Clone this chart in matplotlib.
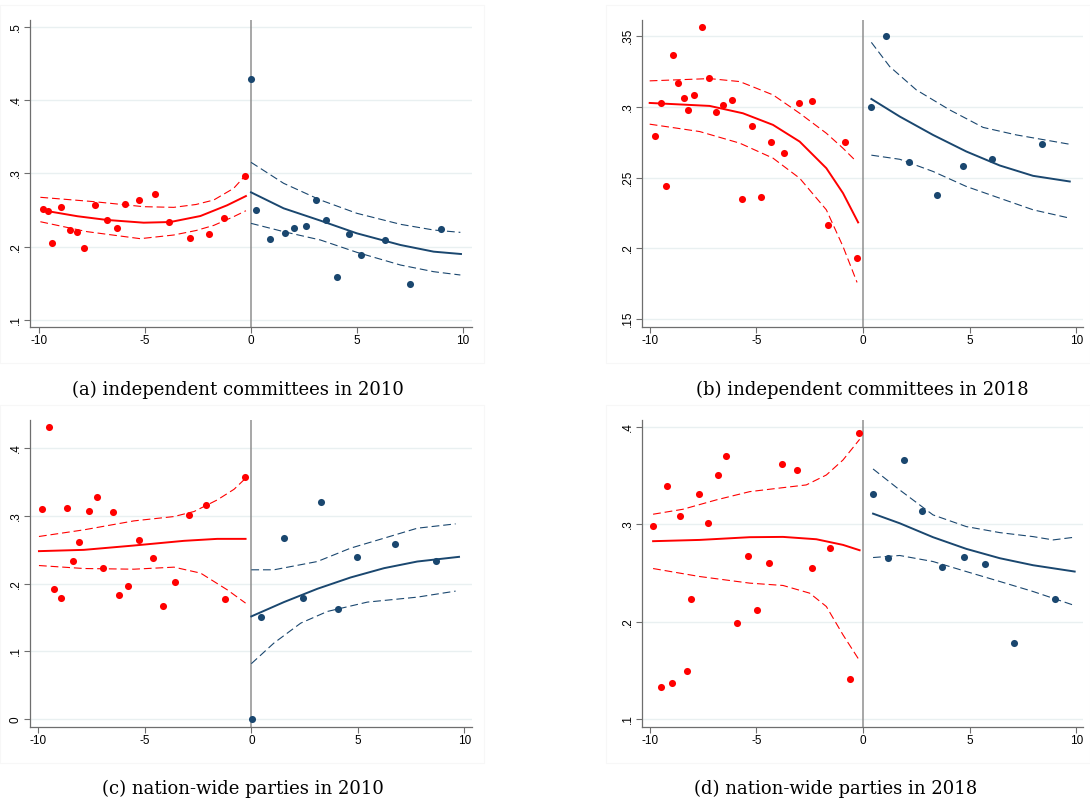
import matplotlib.pyplot as plt
from matplotlib.patches import Rectangle

RED = '#ff0000'
NAVY = '#1a476f'

# ---- (a) independent committees in 2010 ----
a_left_x = [-9.84, -9.59, -9.39, -8.96, -8.54, -8.22, -7.87, -7.37, -6.82, -6.33,
            -5.94, -5.29, -4.52, -3.86, -2.88, -1.98, -1.28, -0.27]
a_left_y = [0.251, 0.248, 0.2055, 0.2545, 0.2227, 0.2195, 0.198, 0.2568, 0.236, 0.226,
            0.2577, 0.264, 0.2718, 0.233, 0.2123, 0.2177, 0.2395, 0.2968]
a_right_x = [0.0, 0.25, 0.91, 1.61, 2.02, 2.58, 3.06, 3.53, 4.06, 4.65, 5.21, 6.35, 7.50, 8.96]
a_right_y = [0.4286, 0.2495, 0.2109, 0.2186, 0.225, 0.2277, 0.264, 0.236, 0.1582, 0.2177,
             0.1882, 0.2095, 0.149, 0.2236]
a_lfit_x = [-9.64, -8.2, -6.8, -5.07, -3.81, -2.39, -1.13, -0.24]
a_lfit_y = [0.2486, 0.2415, 0.2364, 0.2327, 0.2336, 0.2418, 0.2564, 0.269]
a_lhi_x = [-9.95, -7.43, -5.07, -3.65, -2.6, -1.76, -0.82, -0.27]
a_lhi_y = [0.2673, 0.2614, 0.2545, 0.2536, 0.2575, 0.2636, 0.2795, 0.297]
a_llo_x = [-9.95, -7.75, -5.23, -3.65, -2.6, -1.76, -0.82, -0.24]
a_llo_y = [0.234, 0.2205, 0.2109, 0.2159, 0.222, 0.229, 0.2409, 0.249]
a_rfit_x = [0.0, 1.54, 3.28, 5.0, 7.06, 8.63, 9.92]
a_rfit_y = [0.2741, 0.2523, 0.2355, 0.2182, 0.2023, 0.1932, 0.190]
a_rhi_x = [0.0, 1.54, 3.28, 5.0, 7.06, 8.63, 9.89]
a_rhi_y = [0.315, 0.2864, 0.2636, 0.2455, 0.2305, 0.2227, 0.2195]
a_rlo_x = [0.0, 1.54, 3.28, 5.0, 7.06, 8.63, 9.89]
a_rlo_y = [0.2318, 0.2205, 0.2091, 0.1923, 0.175, 0.1659, 0.1614]

# ---- (b) independent committees in 2018 ----
b_left_x = [-9.73, -9.45, -9.23, -8.92, -8.66, -8.38, -8.20, -7.92, -7.55, -7.22, -6.89,
            -6.56, -6.14, -5.67, -5.22, -4.80, -4.31, -3.70, -3.0, -2.38, -1.63, -0.84, -0.28]
b_left_y = [0.2793, 0.3026, 0.2442, 0.3365, 0.3169, 0.3061, 0.2979, 0.3085, 0.3567, 0.3202,
            0.2962, 0.3014, 0.3049, 0.2346, 0.2868, 0.2367, 0.2753, 0.2673, 0.3026, 0.3045,
            0.2165, 0.2753, 0.1932]
b_right_x = [0.39, 1.09, 2.16, 3.45, 4.70, 6.06, 8.38]
b_right_y = [0.3002, 0.3499, 0.2609, 0.2381, 0.2579, 0.2631, 0.2739]
b_lfit_x = [-10.0, -7.19, -5.63, -4.22, -2.97, -1.72, -0.94, -0.23]
b_lfit_y = [0.3028, 0.3007, 0.2955, 0.2873, 0.2755, 0.2567, 0.2391, 0.2184]
b_lhi_x = [-10.0, -7.19, -5.78, -4.22, -2.97, -1.72, -0.94, -0.31]
b_lhi_y = [0.3184, 0.320, 0.3179, 0.3085, 0.2955, 0.2814, 0.2708, 0.2614]
b_llo_x = [-10.0, -7.66, -5.78, -4.22, -2.97, -1.72, -0.94, -0.28]
b_llo_y = [0.2878, 0.2826, 0.2744, 0.2638, 0.2496, 0.2273, 0.2014, 0.176]
b_rfit_x = [0.39, 1.72, 3.28, 4.84, 6.41, 7.97, 9.69]
b_rfit_y = [0.3056, 0.2932, 0.2802, 0.2685, 0.2586, 0.2513, 0.2473]
b_rhi_x = [0.39, 1.25, 2.5, 4.06, 5.63, 7.19, 9.69]
b_rhi_y = [0.3456, 0.3285, 0.312, 0.2979, 0.2855, 0.2802, 0.2736]
b_rlo_x = [0.39, 1.72, 3.28, 4.84, 6.41, 7.97, 9.69]
b_rlo_y = [0.2659, 0.263, 0.2544, 0.2438, 0.2355, 0.2273, 0.2214]

# ---- (c) nation-wide parties in 2010 ----
c_left_x = [-9.81, -9.51, -9.28, -8.95, -8.67, -8.39, -8.08, -7.61, -7.25, -6.94, -6.48,
            -6.21, -5.79, -5.27, -4.62, -4.15, -3.58, -2.91, -2.13, -1.25, -0.31]
c_left_y = [0.3102, 0.4309, 0.1919, 0.1787, 0.3117, 0.2336, 0.2611, 0.3077, 0.3279, 0.2233,
            0.3063, 0.1836, 0.1958, 0.2641, 0.2375, 0.1674, 0.2017, 0.3009, 0.3166, 0.1767,
            0.3573]
c_right_x = [0.05, 0.47, 1.55, 2.44, 3.26, 4.07, 4.98, 6.74, 8.67]
c_right_y = [0.0, 0.1507, 0.2675, 0.1782, 0.321, 0.162, 0.2395, 0.2591, 0.2331]
c_lfit_x = [-9.97, -7.86, -5.51, -3.16, -1.6, -0.27]
c_lfit_y = [0.2479, 0.2498, 0.2562, 0.2631, 0.266, 0.266]
c_lhi_x = [-9.97, -7.86, -5.51, -3.63, -2.69, -1.6, -0.81, -0.27]
c_lhi_y = [0.2695, 0.2793, 0.2925, 0.2989, 0.3063, 0.3234, 0.3391, 0.3553]
c_llo_x = [-9.97, -7.86, -5.51, -3.63, -2.38, -1.13, -0.27]
c_llo_y = [0.2267, 0.2223, 0.2213, 0.2243, 0.2155, 0.1909, 0.1713]
c_rfit_x = [0.0, 1.53, 3.10, 4.66, 6.23, 7.79, 9.75]
c_rfit_y = [0.1517, 0.1728, 0.1924, 0.2091, 0.2228, 0.2326, 0.2395]
c_rhi_x = [0.0, 1.06, 3.10, 4.66, 6.23, 7.79, 9.59]
c_rhi_y = [0.2204, 0.2204, 0.2326, 0.2523, 0.267, 0.2817, 0.2881]
c_rlo_x = [0.0, 1.06, 2.32, 3.57, 5.45, 7.79, 9.59]
c_rlo_y = [0.082, 0.1124, 0.1418, 0.159, 0.1728, 0.1801, 0.189]

# ---- (d) nation-wide parties in 2018 ----
d_left_x = [-9.84, -9.48, -9.20, -8.94, -8.56, -8.25, -8.06, -7.67, -7.25, -6.81, -6.44,
            -5.91, -5.38, -4.98, -4.42, -3.80, -3.09, -2.39, -1.55, -0.61, -0.17]
d_left_y = [0.298, 0.1331, 0.3391, 0.1369, 0.3087, 0.1492, 0.2238, 0.3316, 0.3011, 0.3511,
            0.3706, 0.1985, 0.2676, 0.2122, 0.2604, 0.3624, 0.3555, 0.2549, 0.2758, 0.1407,
            0.3938]
d_right_x = [0.47, 1.16, 1.94, 2.78, 3.69, 4.75, 5.73, 7.09, 9.02]
d_right_y = [0.3316, 0.2659, 0.3661, 0.3134, 0.2563, 0.2669, 0.2590, 0.178, 0.2238]
d_lfit_x = [-9.84, -7.66, -5.31, -3.75, -2.19, -0.94, -0.16]
d_lfit_y = [0.2827, 0.284, 0.2868, 0.2871, 0.2847, 0.2789, 0.2734]
d_lhi_x = [-9.84, -8.44, -6.88, -5.31, -3.75, -2.66, -1.72, -0.94, -0.16]
d_lhi_y = [0.3104, 0.3155, 0.3251, 0.3336, 0.3377, 0.3405, 0.3507, 0.3661, 0.3873]
d_llo_x = [-9.84, -7.66, -5.31, -3.75, -2.5, -1.72, -0.94, -0.19]
d_llo_y = [0.2546, 0.2464, 0.2396, 0.2372, 0.2293, 0.2156, 0.1865, 0.1609]
d_rfit_x = [0.47, 1.72, 3.28, 4.84, 6.41, 7.97, 9.92]
d_rfit_y = [0.311, 0.3011, 0.2868, 0.2748, 0.2652, 0.258, 0.2515]
d_rhi_x = [0.47, 1.72, 3.28, 4.84, 6.41, 7.97, 8.91, 9.92]
d_rhi_y = [0.3569, 0.3353, 0.3097, 0.2977, 0.2915, 0.2874, 0.284, 0.2868]
d_rlo_x = [0.47, 1.72, 3.28, 4.84, 6.41, 7.97, 9.92]
d_rlo_y = [0.2659, 0.268, 0.2618, 0.2515, 0.2413, 0.231, 0.2166]

xticks = [-10, -5, 0, 5, 10]
xticklabels = ['-10', '-5', '0', '5', '10']


def panel(ax, left, right, lfit, lhi, llo, rfit, rhi, rlo, xlim, ylim, yticks, ylabels):
    ax.set_xlim(*xlim)
    ax.set_ylim(*ylim)
    for t in yticks:
        ax.axhline(t, color='#e9f0f1', lw=1.0, zorder=0)
    ax.axvline(0, color='#8f8f8f', lw=1.1, zorder=1)

    ax.scatter(*left, s=26, color=RED, linewidths=0, zorder=3)
    ax.scatter(*right, s=26, color=NAVY, linewidths=0, zorder=3)

    ax.plot(*lfit, color=RED, lw=1.4, zorder=2)
    ax.plot(*rfit, color=NAVY, lw=1.4, zorder=2)
    for cx, cy in (lhi, llo):
        ax.plot(cx, cy, color=RED, lw=0.8, dashes=(7, 3.5), zorder=2)
    for cx, cy in (rhi, rlo):
        ax.plot(cx, cy, color=NAVY, lw=0.8, dashes=(7, 3.5), zorder=2)

    ax.set_xticks(xticks)
    ax.set_xticklabels(xticklabels)
    ax.set_yticks(yticks)
    ax.set_yticklabels(ylabels, rotation=90, va='center')
    for s in ('top', 'right'):
        ax.spines[s].set_visible(False)
    for s in ('left', 'bottom'):
        ax.spines[s].set_color('#6e6e6e')
        ax.spines[s].set_linewidth(0.9)
    ax.tick_params(direction='out', length=4, width=0.8, color='#6e6e6e',
                   labelsize=8.5, pad=2)
    for lab in ax.get_xticklabels() + ax.get_yticklabels():
        lab.set_fontfamily('Liberation Sans')


fig = plt.figure(figsize=(10.9, 8.0), dpi=100)
W, H = 1090, 800


def box(l, t, r, b):
    return [l / W, 1 - b / H, (r - l) / W, (b - t) / H]


# faint outlines of the embedded graphics
for l, t, r, b in [(0, 5, 484, 363), (606, 5, 1090, 363), (0, 405, 484, 763), (606, 405, 1090, 763)]:
    fig.patches.append(Rectangle((l / W, 1 - b / H), (r - l) / W, (b - t) / H,
                                 transform=fig.transFigure, fill=False,
                                 ec='#f7f7f7', lw=0.8))

ax_a = fig.add_axes(box(30, 20, 472, 327))
panel(ax_a, (a_left_x, a_left_y), (a_right_x, a_right_y),
      (a_lfit_x, a_lfit_y), (a_lhi_x, a_lhi_y), (a_llo_x, a_llo_y),
      (a_rfit_x, a_rfit_y), (a_rhi_x, a_rhi_y), (a_rlo_x, a_rlo_y),
      (-10.44, 10.44), (0.0905, 0.509), [0.1, 0.2, 0.3, 0.4, 0.5],
      ['.1', '.2', '.3', '.4', '.5'])

ax_b = fig.add_axes(box(642, 20, 1083, 327))
panel(ax_b, (b_left_x, b_left_y), (b_right_x, b_right_y),
      (b_lfit_x, b_lfit_y), (b_lhi_x, b_lhi_y), (b_llo_x, b_llo_y),
      (b_rfit_x, b_rfit_y), (b_rhi_x, b_rhi_y), (b_rlo_x, b_rlo_y),
      (-10.36, 10.31), (0.1445, 0.3614), [0.15, 0.2, 0.25, 0.3, 0.35],
      ['.15', '.2', '.25', '.3', '.35'])

ax_c = fig.add_axes(box(30, 420, 472, 727))
panel(ax_c, (c_left_x, c_left_y), (c_right_x, c_right_y),
      (c_lfit_x, c_lfit_y), (c_lhi_x, c_lhi_y), (c_llo_x, c_llo_y),
      (c_rfit_x, c_rfit_y), (c_rhi_x, c_rhi_y), (c_rlo_x, c_rlo_y),
      (-10.39, 10.36), (-0.0113, 0.4412), [0.0, 0.1, 0.2, 0.3, 0.4],
      ['0', '.1', '.2', '.3', '.4'])

ax_d = fig.add_axes(box(642, 420, 1083, 727))
panel(ax_d, (d_left_x, d_left_y), (d_right_x, d_right_y),
      (d_lfit_x, d_lfit_y), (d_lhi_x, d_lhi_y), (d_llo_x, d_llo_y),
      (d_rfit_x, d_rfit_y), (d_rhi_x, d_rhi_y), (d_rlo_x, d_rlo_y),
      (-10.36, 10.31), (0.0918, 0.4072), [0.1, 0.2, 0.3, 0.4],
      ['.1', '.2', '.3', '.4'])

captions = ['(a) independent committees in 2010', '(b) independent committees in 2018',
            '(c) nation-wide parties in 2010', '(d) nation-wide parties in 2018']
cap_pos = [(238, 390), (862, 390), (243, 789), (836, 789)]
for txt, (cx, cy) in zip(captions, cap_pos):
    fig.text(cx / W, 1 - cy / H, txt, ha='center', va='center',
             fontsize=13, family='DejaVu Serif')

fig.savefig('out.png', dpi=100)
